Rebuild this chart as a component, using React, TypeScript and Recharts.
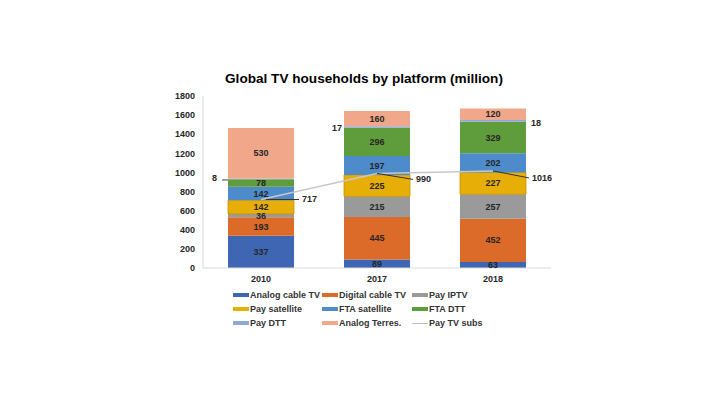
import React from 'react';
import { ComposedChart, Bar, Line, XAxis, YAxis, LabelList, Legend } from 'recharts';

const years = ['2010', '2017', '2018'];
const analogCable = [337, 89, 63];
const digitalCable = [193, 445, 452];
const payIptv = [36, 215, 257];
const paySatellite = [142, 225, 227];
const ftaSatellite = [142, 197, 202];
const ftaDtt = [78, 296, 329];
const payDtt = [8, 17, 18];
const analogTerres = [530, 160, 120];
const payTvSubs = [717, 990, 1016];
const yTicks = [0, 200, 400, 600, 800, 1000, 1200, 1400, 1600, 1800];

const FONT = '"Liberation Sans", Arial, sans-serif';

const series = [
  { key: 'analogCable', name: 'Analog cable TV', values: analogCable, color: '#3F66B3', stroke: 'none' },
  { key: 'digitalCable', name: 'Digital cable TV', values: digitalCable, color: '#DC6A28', stroke: 'none' },
  { key: 'payIptv', name: 'Pay IPTV', values: payIptv, color: '#9A9A9A', stroke: 'none' },
  { key: 'paySatellite', name: 'Pay satellite', values: paySatellite, color: '#E8AE08', stroke: '#C59400' },
  { key: 'ftaSatellite', name: 'FTA satellite', values: ftaSatellite, color: '#4D8BCA', stroke: 'none' },
  { key: 'ftaDtt', name: 'FTA DTT', values: ftaDtt, color: '#5F9C3B', stroke: 'none' },
  { key: 'payDtt', name: 'Pay DTT', values: payDtt, color: '#8EA9D8', stroke: 'none' },
  { key: 'analogTerres', name: 'Analog Terres.', values: analogTerres, color: '#F0A78A', stroke: 'none' },
];

const data = years.map((year, i) => {
  const row: any = { year, payTvSubs: payTvSubs[i] };
  series.forEach((s) => {
    row[s.key] = s.values[i];
  });
  return row;
});

const FS = 9;
const textStyle = { fontFamily: FONT, fontWeight: 700, fontSize: FS, fill: '#262626' };

const centerLabel = (props: any) => {
  const { x, y, width, height, value } = props;
  return (
    <text x={x + width / 2} y={y + height / 2} textAnchor="middle" dominantBaseline="central" style={textStyle}>
      {value}
    </text>
  );
};

const payDttLabel = (props: any) => {
  const { x, y, width, height, value, index } = props;
  const cy = y + height / 2;
  if (index === 0) {
    return (
      <g>
        <line x1={x - 6} y1={cy + 1} x2={x} y2={cy + 1} stroke="#404040" strokeWidth={1} />
        <text x={x - 11} y={cy - 1} textAnchor="end" dominantBaseline="central" style={textStyle}>{value}</text>
      </g>
    );
  }
  if (index === 1) {
    return (
      <text x={x - 2} y={cy + 1} textAnchor="end" dominantBaseline="central" style={textStyle}>{value}</text>
    );
  }
  return (
    <text x={x + width + 5} y={cy + 2} textAnchor="start" dominantBaseline="central" style={textStyle}>{value}</text>
  );
};

const lineLabel = (props: any) => {
  const { x, y, value, index } = props;
  const offsets = [
    { dx: 38, dy: 0 },
    { dx: 36, dy: 6 },
    { dx: 36, dy: 7 },
  ];
  const o = offsets[index] || offsets[0];
  return (
    <g>
      <line x1={x + (index === 0 ? 5 : 0)} y1={y} x2={x + o.dx} y2={y + o.dy} stroke="#333" strokeWidth={1} />
      <text x={x + o.dx + 3} y={y + o.dy} textAnchor="start" dominantBaseline="central" style={textStyle}>{value}</text>
    </g>
  );
};

const legendItems = [
  ...series.map((s) => ({ name: s.name, color: s.color, line: false })),
  { name: 'Pay TV subs', color: '#BFBFBF', line: true },
];

const legendContent = () => (
  <div style={{ display: 'grid', gridTemplateColumns: '89px 90px 110px', rowGap: 2 }}>
    {legendItems.map((it) => (
      <div key={it.name} style={{ display: 'flex', alignItems: 'center', height: 12 }}>
        <span
          style={{
            display: 'inline-block',
            width: 16,
            height: it.line ? 1 : 4,
            background: it.color,
            marginRight: 1,
          }}
        />
        <span style={{ fontFamily: FONT, fontWeight: 700, fontSize: FS, color: '#333', whiteSpace: 'nowrap' }}>
          {it.name}
        </span>
      </div>
    ))}
  </div>
);

export default function App() {
  return (
    <div style={{ position: 'absolute', left: 0, top: 0, width: 726, height: 408, background: '#fff' }}>
      <div
        style={{
          position: 'absolute',
          left: 0,
          top: 70,
          width: 728,
          textAlign: 'center',
          fontFamily: FONT,
          fontWeight: 700,
          fontSize: 13.6,
          color: '#000',
          lineHeight: '18px',
          zIndex: 2,
        }}
      >
        Global TV households by platform (million)
      </div>
      <ComposedChart
        width={726}
        height={408}
        data={data}
        margin={{ top: 96, right: 175, bottom: 110, left: 143 }}
      >
        <XAxis
          dataKey="year"
          height={30}
          tickLine={false}
          axisLine={{ stroke: '#D9D9D9' }}
          tick={{ fontFamily: FONT, fontWeight: 700, fontSize: FS, fill: '#262626' }}
        />
        <YAxis
          width={60}
          domain={[0, 1800]}
          ticks={yTicks}
          interval={0}
          tickLine={false}
          axisLine={{ stroke: '#D9D9D9' }}
          tick={{ fontFamily: FONT, fontWeight: 700, fontSize: FS, fill: '#262626' }}
        />
        <Legend
          layout="horizontal"
          verticalAlign="middle"
          align="center"
          content={legendContent}
          wrapperStyle={{ left: 233, top: 289, width: 300, height: 42 }}
        />
        {series.map((s) => (
          <Bar
            key={s.key}
            dataKey={s.key}
            name={s.name}
            stackId="a"
            fill={s.color}
            stroke={s.stroke}
            strokeWidth={s.stroke === 'none' ? 0 : 0.8}
            barSize={66}
            isAnimationActive={false}
          >
            <LabelList dataKey={s.key} content={s.key === 'payDtt' ? payDttLabel : centerLabel} />
          </Bar>
        ))}
        <Line
          dataKey="payTvSubs"
          name="Pay TV subs"
          stroke="#C8C8C8"
          strokeWidth={1.5}
          dot={false}
          activeDot={false}
          isAnimationActive={false}
        >
          <LabelList dataKey="payTvSubs" content={lineLabel} />
        </Line>
      </ComposedChart>
    </div>
  );
}
